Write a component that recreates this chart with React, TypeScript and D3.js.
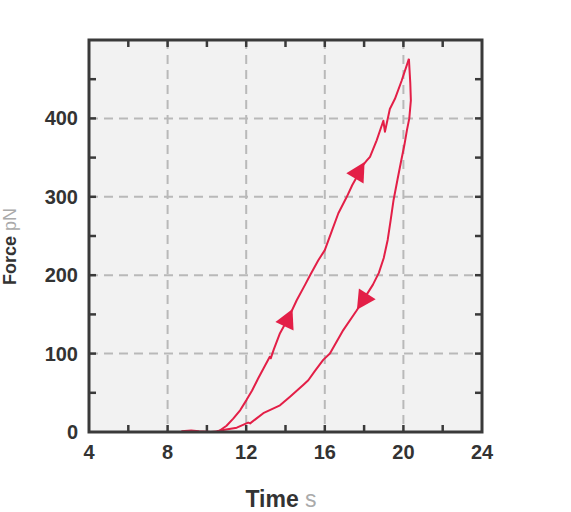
import React from "react";
import * as d3 from "d3";

const loadT = [8.7, 9.2, 9.6, 10.2, 10.6, 11.0, 11.34, 11.7, 12.02, 12.3, 12.6, 12.9, 13.2, 13.25, 13.4, 13.72, 14.14, 14.57, 15.0, 15.25, 15.67, 16.0, 16.35, 16.69, 17.12, 17.4, 17.62, 17.8, 18.13, 18.3, 18.64, 18.98, 19.06, 19.31, 19.57, 19.91, 20.28];
const loadF = [1, 2, 1, 0, 1, 8, 17, 28, 41, 53, 68, 82, 96, 94, 105, 126, 145, 168, 188, 200, 219, 232, 256, 279, 300, 315, 325, 336, 346, 351, 372, 397, 383, 412, 425, 448, 476];

const unloadT = [20.28, 20.35, 20.38, 20.3, 20.18, 20.05, 19.88, 19.7, 19.5, 19.35, 19.2, 19.0, 18.75, 18.45, 18.05, 17.62, 16.94, 16.26, 15.92, 15.5, 15.16, 14.9, 14.23, 13.72, 12.87, 12.2, 12.1, 11.52, 10.83, 10.5];
const unloadF = [476, 445, 423, 400, 385, 366, 345, 322, 296, 270, 245, 222, 203, 188, 172, 155, 130, 100, 92, 78, 66, 60, 45, 34, 24, 11, 12, 5.5, 2.5, 1];

const xTickLabels = [4, 8, 12, 16, 20, 24];
const yTickLabels = [0, 100, 200, 300, 400];
const arrowsLoad = [14.12, 17.74];
const arrowsUnload = [17.94];

const W = 571;
const H = 512;
const L = 89, R = 482, T = 40, B = 432;
const RED = "#e31f47";
const DARK = "#3a3a3a";

export default function App() {
  const x = d3.scaleLinear().domain([4, 24]).range([L, R]);
  const y = d3.scaleLinear().domain([0, 500]).range([B, T]);
  const line = d3.line<[number, number]>().x(d => x(d[0])).y(d => y(d[1]));
  const load: [number, number][] = loadT.map((t, i) => [t, loadF[i]]);
  const unload: [number, number][] = unloadT.map((t, i) => [t, unloadF[i]]);

  const arrowAt = (pts: [number, number][], t: number, key: string) => {
    let i = 0;
    for (let k = 0; k < pts.length - 1; k++) {
      const a = pts[k][0], b = pts[k + 1][0];
      if ((t - a) * (t - b) <= 0 && a !== b) { i = k; break; }
    }
    const p0 = pts[i], p1 = pts[i + 1];
    const f = (t - p0[0]) / (p1[0] - p0[0]);
    const F = p0[1] + f * (p1[1] - p0[1]);
    const cx = x(t), cy = y(F);
    const a0 = Math.max(0, i - 1), a1 = Math.min(pts.length - 1, i + 2);
    const dx = x(pts[a1][0]) - x(pts[a0][0]);
    const dy = y(pts[a1][1]) - y(pts[a0][1]);
    const len = Math.hypot(dx, dy);
    const ux = dx / len, uy = dy / len;
    const nx = -uy, ny = ux;
    const tipX = cx + ux * 11, tipY = cy + uy * 11;
    const bx = cx - ux * 8, by = cy - uy * 8;
    const hw = 10;
    const d = `M${tipX},${tipY}L${bx + nx * hw},${by + ny * hw}L${bx - nx * hw},${by - ny * hw}Z`;
    return <path key={key} d={d} fill={RED} />;
  };

  const xMinor = d3.range(6, 24, 2);
  const yMinor = d3.range(50, 500, 50);
  const font = "'Liberation Sans', Arial, Helvetica, sans-serif";

  return (
    <svg width={W} height={H} style={{ position: "absolute", left: 0, top: 0 }}>
      <rect x={0} y={0} width={W} height={H} fill="#fff" />
      <rect x={L} y={T} width={R - L} height={B - T} fill="#f2f2f2" />
      {xTickLabels.slice(1, -1).map(v => (
        <line key={"gx" + v} x1={x(v)} x2={x(v)} y1={T} y2={B} stroke="#b9b9b9" strokeWidth={2} strokeDasharray="9 6" />
      ))}
      {yTickLabels.slice(1).map(v => (
        <line key={"gy" + v} x1={L} x2={R} y1={y(v)} y2={y(v)} stroke="#b9b9b9" strokeWidth={2} strokeDasharray="9 6" />
      ))}
      {xMinor.map(v => (
        <g key={"tx" + v}>
          <line x1={x(v)} x2={x(v)} y1={B} y2={B - 7} stroke={DARK} strokeWidth={2.5} />
          <line x1={x(v)} x2={x(v)} y1={T} y2={T + 7} stroke={DARK} strokeWidth={2.5} />
        </g>
      ))}
      {yMinor.map(v => (
        <g key={"ty" + v}>
          <line x1={L} x2={L + 7} y1={y(v)} y2={y(v)} stroke={DARK} strokeWidth={2.5} />
          <line x1={R} x2={R - 7} y1={y(v)} y2={y(v)} stroke={DARK} strokeWidth={2.5} />
        </g>
      ))}
      <path d={line(load) || ""} fill="none" stroke={RED} strokeWidth={2} strokeLinejoin="round" />
      <path d={line(unload) || ""} fill="none" stroke={RED} strokeWidth={2} strokeLinejoin="round" />
      {arrowsLoad.map((t, i) => arrowAt(load, t, "al" + i))}
      {arrowsUnload.map((t, i) => arrowAt(unload, t, "au" + i))}
      <rect x={L} y={T} width={R - L} height={B - T} fill="none" stroke={DARK} strokeWidth={3} />
      {xTickLabels.map(v => (
        <text key={"xl" + v} x={x(v)} y={452} textAnchor="middle" dominantBaseline="central" fontFamily={font} fontWeight="bold" fontSize={20} fill="#333">{v}</text>
      ))}
      {yTickLabels.map(v => (
        <text key={"yl" + v} x={78} y={y(v)} textAnchor="end" dominantBaseline="central" fontFamily={font} fontWeight="bold" fontSize={20} fill="#333">{v}</text>
      ))}
      <text x={281} y={507} textAnchor="middle" fontFamily={font} fontSize={23}>
        <tspan fontWeight="bold" fill="#333">Time</tspan>
        <tspan fill="#aaa"> s</tspan>
      </text>
      <text transform="translate(16,285) rotate(-90)" textAnchor="start" fontFamily={font} fontSize={18}>
        <tspan fontWeight="bold" fill="#333">Force</tspan>
        <tspan fill="#aaa"> pN</tspan>
      </text>
    </svg>
  );
}
